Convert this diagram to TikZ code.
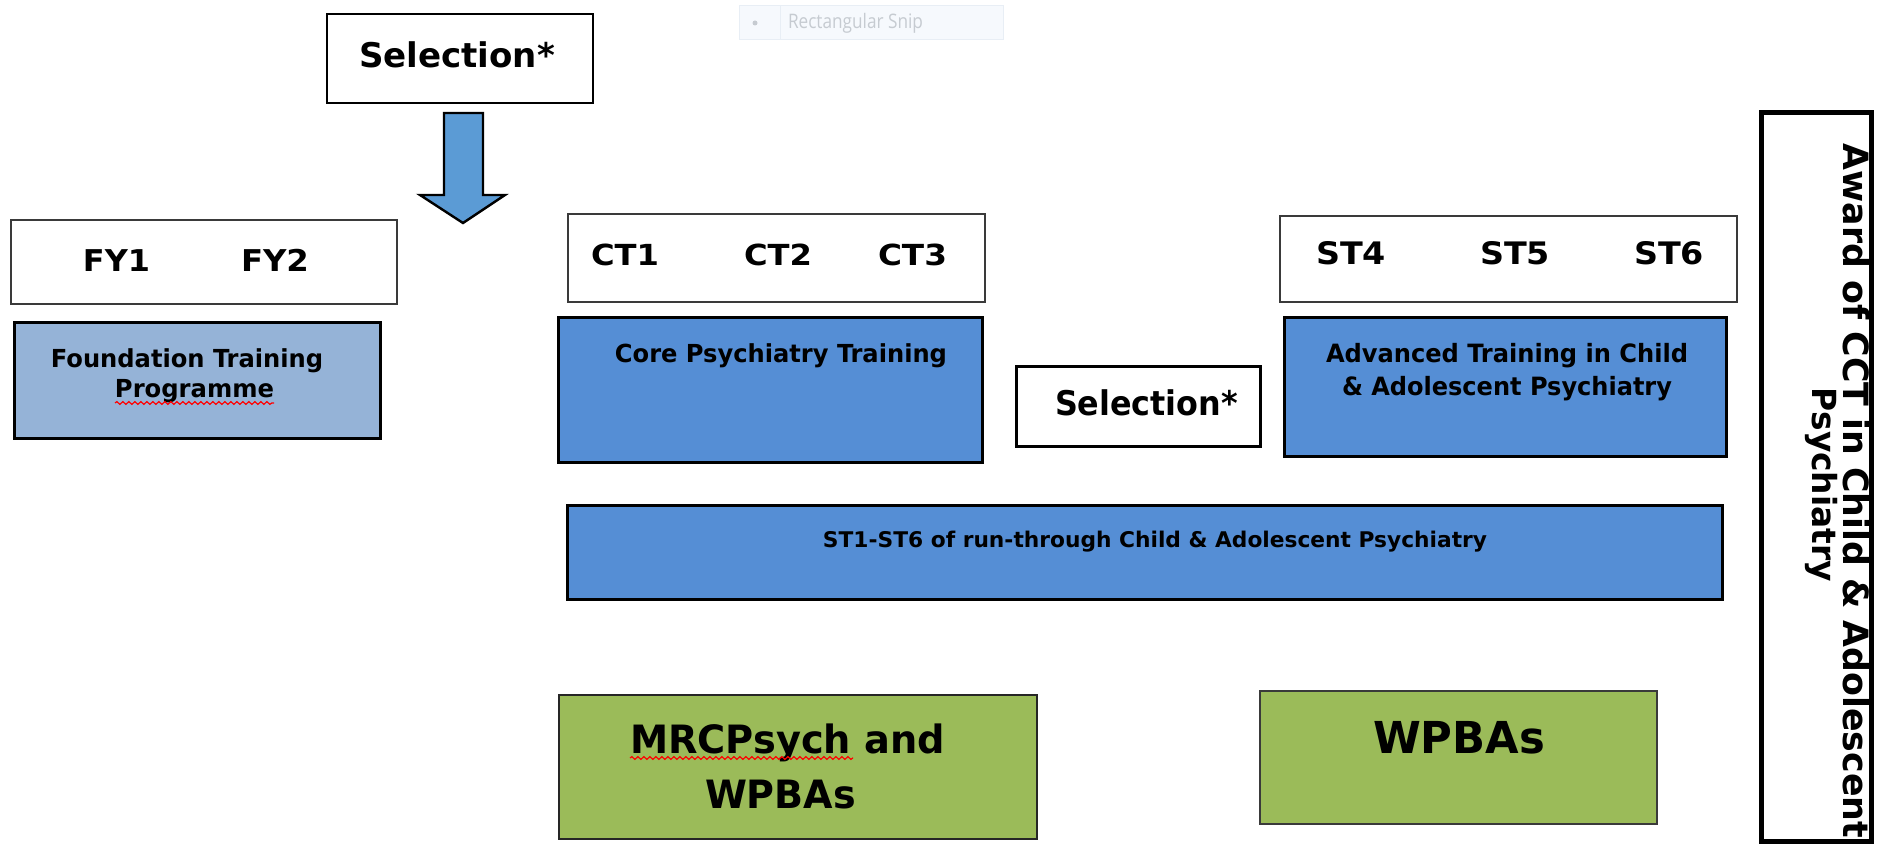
\documentclass[tikz,border=0pt]{standalone}
\usepackage{fontspec}
\usepackage{graphicx}
\setmainfont{DejaVu Sans}
\newfontfamily\vbf{DejaVu Sans Bold}
\newfontfamily\cbf{DejaVu Sans Condensed Bold}
\newfontfamily\snipfont{Open Sans}
\usetikzlibrary{decorations.pathmorphing}
\newcommand\fw[2]{\resizebox{#1}{\height}{#2}}
\definecolor{fdblue}{HTML}{95B3D7}
\definecolor{midblue}{HTML}{558ED5}
\definecolor{arrblue}{HTML}{5B9BD5}
\definecolor{grn}{HTML}{9BBB59}
\definecolor{thinedge}{HTML}{3A3A3A}
\definecolor{snipfill}{HTML}{F6F9FD}
\definecolor{snipedge}{HTML}{E8EEF5}
\definecolor{sniptext}{HTML}{C6CBD1}
\begin{document}
\begin{tikzpicture}[x=0.5pt,y=-0.5pt,
  box/.style={rectangle, inner sep=0pt, outer sep=0pt},
  whitebox/.style={box, draw=thinedge, line width=0.8pt, fill=white},
  selbox/.style={box, draw=black, line width=1.3pt, fill=white},
  bluebox/.style={box, draw=black, line width=1.5pt, fill=midblue},
  greenbox/.style={box, draw=black!85, line width=1.3pt, fill=grn},
  txt/.style={inner sep=0pt, outer sep=0pt, anchor=base},
  squig/.style={red, line width=0.6pt, decorate, decoration={snake, amplitude=0.7pt, segment length=3pt}}]
\useasboundingbox (0,0) rectangle (1877,844);

% faint screenshot artefact
\node[box, draw=snipedge, fill=snipfill, line width=0.5pt, minimum width=132pt, minimum height=17pt] (snip) at (871,23) {};
\draw[snipedge, line width=0.5pt] (780,6) -- (780,40);
\fill[sniptext] (755,23) circle (2.5);
\node[txt, anchor=base west, text=sniptext] (sniptxt) at (788,29) {\fw{67.5pt}{\snipfont\fontsize{10}{12}\selectfont Rectangular Snip}};

% top selection and arrow
\node[selbox, minimum width=133pt, minimum height=44.5pt] (sel1) at (460,58.5) {};
\node[txt] (sel1t) at (457,68) {\fw{98pt}{\vbf\fontsize{17}{20}\selectfont Selection*}};
\draw[fill=arrblue, line width=1.2pt, line join=miter]
  (444,113) -- (483,113) -- (483,195) -- (505,195) -- (463,223) -- (420,195) -- (444,195) -- cycle;

% year boxes
\node[whitebox, minimum width=193pt, minimum height=42pt] (fy) at (204,262) {};
\node[txt] (fy1) at (116.5,272) {\fw{33.5pt}{\vbf\fontsize{15}{18}\selectfont FY1}};
\node[txt] (fy2) at (275,272) {\fw{34pt}{\vbf\fontsize{15}{18}\selectfont FY2}};

\node[whitebox, minimum width=208.5pt, minimum height=44pt] (ct) at (776.5,258) {};
\node[txt] (ct1) at (625,266) {\fw{34pt}{\vbf\fontsize{14.5}{17}\selectfont CT1}};
\node[txt] (ct2) at (778,266) {\fw{34pt}{\vbf\fontsize{14.5}{17}\selectfont CT2}};
\node[txt] (ct3) at (912.5,266) {\fw{34.5pt}{\vbf\fontsize{14.5}{17}\selectfont CT3}};

\node[whitebox, minimum width=228.5pt, minimum height=43pt] (st) at (1508.5,259) {};
\node[txt] (st4) at (1351,265) {\fw{35pt}{\vbf\fontsize{15.5}{18}\selectfont ST4}};
\node[txt] (st5) at (1515,265) {\fw{35pt}{\vbf\fontsize{15.5}{18}\selectfont ST5}};
\node[txt] (st6) at (1669,265) {\fw{35pt}{\vbf\fontsize{15.5}{18}\selectfont ST6}};

% programme boxes
\node[bluebox, fill=fdblue, minimum width=183pt, minimum height=57.5pt] (found) at (197,380.5) {};
\node[txt] (found1) at (187,368) {\fw{136pt}{\cbf\fontsize{12.4}{15}\selectfont Foundation Training}};
\node[txt] (found2) at (194.5,398) {\fw{79.5pt}{\cbf\fontsize{12.4}{15}\selectfont Programme}};
\draw[squig] (115,403) -- (274,403);

\node[bluebox, minimum width=212pt, minimum height=72pt] (core) at (770,390) {};
\node[txt] (coret) at (781,363) {\fw{166pt}{\cbf\fontsize{12.4}{15}\selectfont Core Psychiatry Training}};

\node[bluebox, fill=white, minimum width=122pt, minimum height=40pt] (sel2) at (1138,406) {};
\node[txt] (sel2t) at (1146.5,415) {\fw{91.5pt}{\cbf\fontsize{17}{20}\selectfont Selection*}};

\node[bluebox, minimum width=221pt, minimum height=69pt] (adv) at (1505,387) {};
\node[txt] (adv1) at (1507,362) {\fw{181pt}{\cbf\fontsize{12.6}{15}\selectfont Advanced Training in Child}};
\node[txt] (adv2) at (1507,395) {\fw{165pt}{\cbf\fontsize{12.6}{15}\selectfont \& Adolescent Psychiatry}};

\node[bluebox, minimum width=577.5pt, minimum height=47pt] (run) at (1144.5,552) {};
\node[txt] (runt) at (1155,547) {\fw{332pt}{\cbf\fontsize{10.8}{13}\selectfont ST1-ST6 of run-through Child \& Adolescent Psychiatry}};

% assessment boxes
\node[greenbox, minimum width=239pt, minimum height=72pt] (mrc) at (798,767) {};
\node[txt] (mrc1) at (787.5,753) {\fw{157.5pt}{\vbf\fontsize{19.5}{23}\selectfont MRCPsych and}};
\node[txt] (mrc2) at (780.5,808) {\fw{75.5pt}{\vbf\fontsize{19.5}{23}\selectfont WPBAs}};
\draw[squig] (630,758) -- (853,758);

\node[greenbox, draw=thinedge, line width=1pt, minimum width=198.5pt, minimum height=66.5pt] (wpba) at (1458.5,757.5) {};
\node[txt] (wpbat) at (1459,753) {\fw{86pt}{\vbf\fontsize{22}{26}\selectfont WPBAs}};

% award
\node[box, draw=black, line width=2.5pt, fill=white, minimum width=55pt, minimum height=364pt] (award) at (1816,477) {};
\node[txt, rotate=-90] (award1) at (1843,491) {\fw{347pt}{\vbf\fontsize{17.4}{20}\selectfont Award of CCT in Child \& Adolescent}};
\node[txt, rotate=-90] (award2) at (1812,485) {\fw{97pt}{\vbf\fontsize{16.6}{20}\selectfont Psychiatry}};
\end{tikzpicture}
\end{document}
